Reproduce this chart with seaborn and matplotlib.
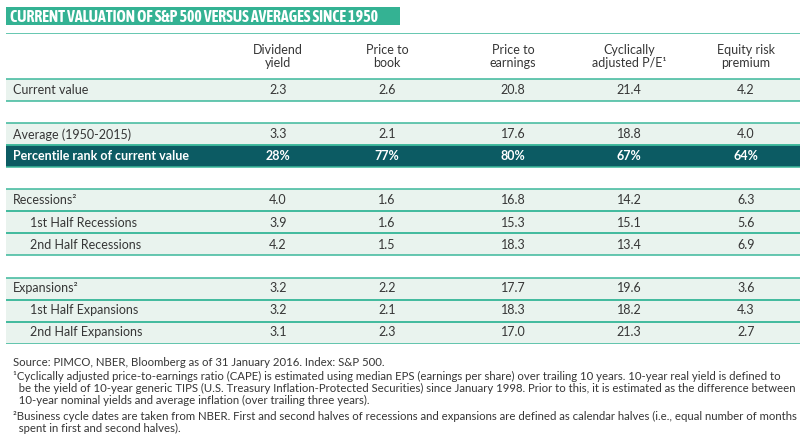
import numpy as np
import pandas as pd
import matplotlib
matplotlib.use('Agg')
import matplotlib.pyplot as plt
import seaborn as sns
from matplotlib.colors import ListedColormap
from matplotlib.patches import Rectangle

sns.set_theme(style='white')
plt.rcParams['font.family'] = ['Lato', 'DejaVu Sans']

# data
title = 'CURRENT VALUATION OF S&P 500 VERSUS AVERAGES SINCE 1950'
col_headers = ['Dividend\nyield', 'Price to\nbook', 'Price to\nearnings',
               'Cyclically\nadjusted P/E¹', 'Equity risk\npremium']
row_labels = ['Current value', '', 'Average (1950-2015)', 'Percentile rank of current value', '',
              'Recessions²', '1st Half Recessions', '2nd Half Recessions', '',
              'Expansions²', '1st Half Expansions', '2nd Half Expansions']
row_kind = ['main', 'gap', 'main', 'rank', 'gap', 'main', 'sub', 'sub', 'gap', 'main', 'sub', 'sub']
nan = np.nan
dividend_yield = [2.3, nan, 3.3, 28, nan, 4.0, 3.9, 4.2, nan, 3.2, 3.2, 3.1]
price_to_book = [2.6, nan, 2.1, 77, nan, 1.6, 1.6, 1.5, nan, 2.2, 2.1, 2.3]
price_to_earnings = [20.8, nan, 17.6, 80, nan, 16.8, 15.3, 18.3, nan, 17.7, 18.3, 17.0]
cape = [21.4, nan, 18.8, 67, nan, 14.2, 15.1, 13.4, nan, 19.6, 18.2, 21.3]
equity_risk = [4.2, nan, 4.0, 64, nan, 6.3, 5.6, 6.9, nan, 3.6, 4.3, 2.7]
footnotes = [
    'Source: PIMCO, NBER, Bloomberg as of 31 January 2016. Index: S&P 500.',
    '¹Cyclically adjusted price-to-earnings ratio (CAPE) is estimated using median EPS (earnings per share) over trailing 10 years. 10-year real yield is defined to',
    '  be the yield of 10-year generic TIPS (U.S. Treasury Inflation-Protected Securities) since January 1998. Prior to this, it is estimated as the difference between',
    '  10-year nominal yields and average inflation (over trailing three years).',
    '²Business cycle dates are taken from NBER. First and second halves of recessions and expansions are defined as calendar halves (i.e., equal number of months',
    '  spent in first and second halves).',
]

df = pd.DataFrame({'label': row_labels, 'kind': row_kind,
                   'dy': dividend_yield, 'pb': price_to_book, 'pe': price_to_earnings,
                   'cape': cape, 'erp': equity_risk})
value_cols = ['dy', 'pb', 'pe', 'cape', 'erp']

# colours / layout
GREEN = '#34b293'
LINE = '#3cb89b'
LIGHT = '#e9f3ee'
DARK = '#0c5b63'
TXT = '#363636'
W, H = 810, 444
left_px, right_px = 6, 800
top_px, body_top_px, row_px = 33, 79.5, 22
col_centers_px = [278, 387, 513, 629, 746]

fig = plt.figure(figsize=(W / 100, H / 100), dpi=100)

# page axes in pixel units for title and notes
page = fig.add_axes([0, 0, 1, 1])
page.set_xlim(0, W)
page.set_ylim(H, 0)
page.axis('off')
page.add_patch(Rectangle((6, 7), 394, 18, color=GREEN, lw=0))
page.text(10, 16.5, title, color='white', fontsize=11.3, fontweight='bold',
          family=['Asap Condensed', 'DejaVu Sans'], va='center', ha='left')
note_y = [362, 376.5, 388.5, 400.5, 416, 428]
for y, line in zip(note_y, footnotes):
    page.text(13, y, line, color=TXT, fontsize=8.2, va='center', ha='left')

# table body: row fills drawn as a heatmap
n = len(df)
body_bottom_px = body_top_px + n * row_px
ax = fig.add_axes([left_px / W, 1 - body_bottom_px / H,
                   (right_px - left_px) / W, (body_bottom_px - top_px) / H])
fill = df['kind'].map({'main': 0, 'sub': 0, 'rank': 1, 'gap': nan}).to_numpy().reshape(-1, 1)
sns.heatmap(fill, mask=np.isnan(fill), cmap=ListedColormap([LIGHT, DARK]), vmin=0, vmax=1,
            cbar=False, xticklabels=False, yticklabels=False, ax=ax)
header_h = (body_top_px - top_px) / row_px
ax.set_ylim(n, -header_h)
ax.set_xlim(0, 1)
ax.axis('off')

def fx(px):
    return (px - left_px) / (right_px - left_px)

ax.axhline(-header_h, color=LINE, lw=1.1)
for i, kind in enumerate(df['kind']):
    if kind != 'gap':
        ax.axhline(i, color=LINE, lw=1.1)
        ax.axhline(i + 1, color=LINE, lw=1.1)

for c, h in zip(col_centers_px, col_headers):
    ax.text(fx(c), -header_h / 2, h, ha='center', va='center', color=TXT,
            fontsize=9, linespacing=1.15)

for i, r in df.iterrows():
    if r['kind'] == 'gap':
        continue
    is_rank = r['kind'] == 'rank'
    color = 'white' if is_rank else TXT
    weight = 'bold' if is_rank else 'normal'
    x0 = 30 if r['kind'] == 'sub' else 13
    ax.text(fx(x0), i + 0.5, r['label'], ha='left', va='center', color=color,
            fontsize=9, fontweight=weight)
    for c, col in zip(col_centers_px, value_cols):
        s = f"{r[col]:.0f}%" if is_rank else f"{r[col]:.1f}"
        ax.text(fx(c), i + 0.5, s, ha='center', va='center', color=color,
                fontsize=9, fontweight=weight)

fig.savefig('out.png', dpi=100)
